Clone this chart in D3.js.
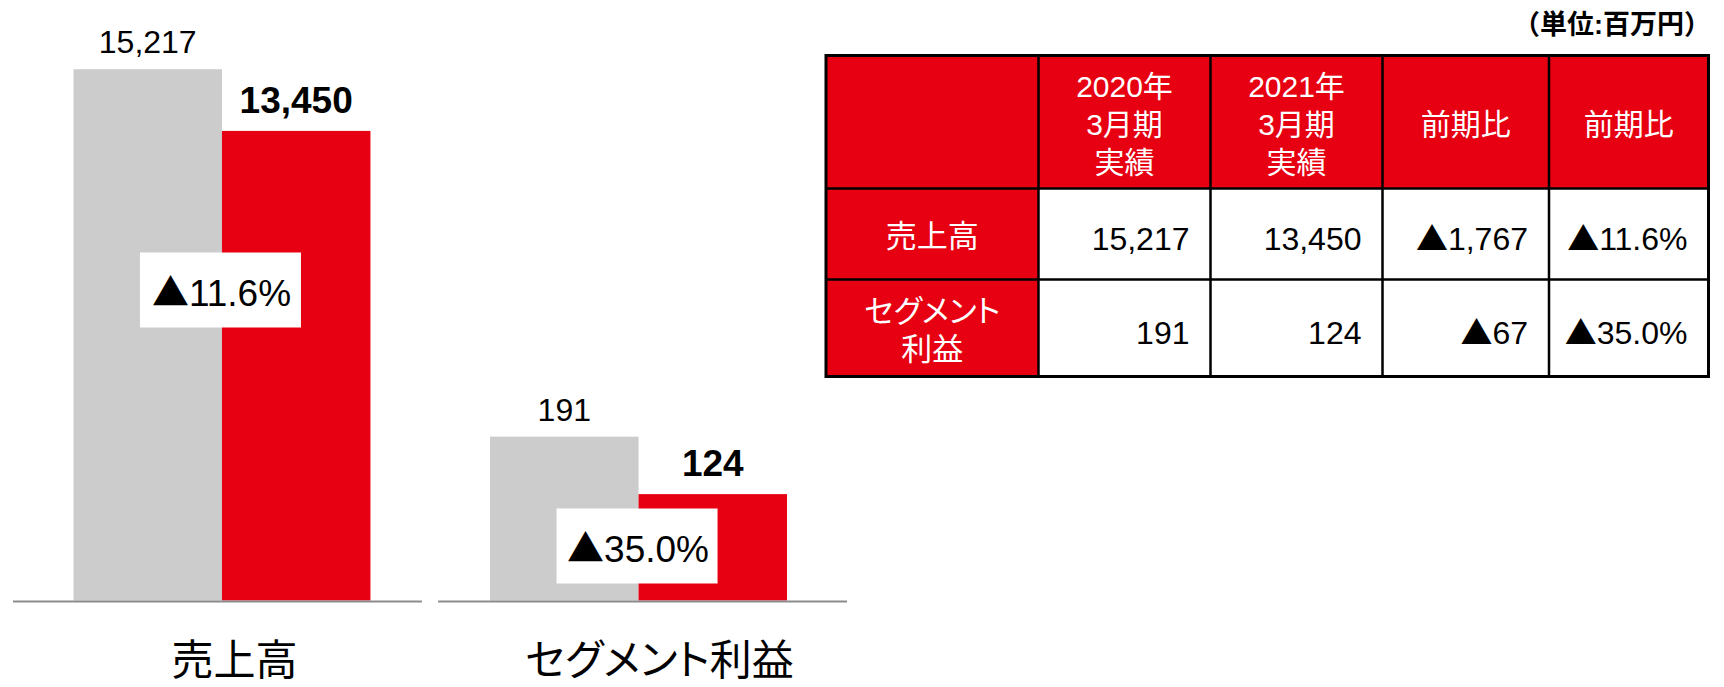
<!DOCTYPE html>
<html>
<head>
<meta charset="utf-8">
<title>売上高・セグメント利益</title>
<script src="https://cdnjs.cloudflare.com/ajax/libs/d3/7.8.5/d3.min.js"></script>
<style>
    body { margin: 0; background: #fff; }
    svg text {
        font-family: "Liberation Sans", "Noto Sans CJK JP", sans-serif;
        font-feature-settings: "palt";
    }
    svg tspan.tri {
        font-family: "Noto Sans CJK JP", sans-serif;
    }
</style>
</head>
<body>
<svg id="chart"></svg>
<script>
    // values (単位:百万円)
    const categories = ["売上高", "セグメント利益"];
    const seriesNames = ["2020年3月期実績", "2021年3月期実績"];
    const prevYear = [15217, 191];
    const thisYear = [13450, 124];
    const diffAmount = ["▲1,767", "▲67"];
    const diffRate = ["▲11.6%", "▲35.0%"];
    const axisMax = [17200, 700];   // each panel has its own scale

    const headerLabels = [[], ["2020年", "3月期", "実績"], ["2021年", "3月期", "実績"], ["前期比"], ["前期比"]];
    const rowLabels = [["売上高"], ["セグメント", "利益"]];
    const unitLabel = "（単位:百万円）";

    const width = 1724, height = 687;
    const red = "#E60012", grey = "#CCCCCC";

    const svg = d3.select("#chart")
        .attr("width", width)
        .attr("height", height);

    // puts a leading ▲ into its own tspan so it gets the big CJK glyph
    function triText(sel, t) {
        if (t.startsWith("▲")) {
            sel.append("tspan").attr("class", "tri").text("▲");
            sel.append("tspan").text(t.slice(1));
        } else {
            sel.text(t);
        }
    }

    // ---- bar chart ----
    const baseY = 600.5;
    const x0 = d3.scaleBand()
        .domain(categories)
        .range([13, 847])
        .paddingInner(0.038);

    const x1 = d3.scaleBand()
        .domain([0, 1])
        .range([0, x0.bandwidth()])
        .paddingOuter(0.377);

    const yScales = axisMax.map(m => d3.scaleLinear().domain([0, m]).range([baseY, 0]));
    const color = d3.scaleOrdinal().domain([0, 1]).range([grey, red]);

    const barShift = [4.5, -4];     // bar pairs sit a little toward the middle
    const boxCenterY = [290, 546];

    categories.forEach((cat, i) => {
        const y = yScales[i];
        const vals = [prevYear[i], thisYear[i]];
        const g = svg.append("g").attr("transform", `translate(${x0(cat)},0)`);
        const bars = g.append("g").attr("transform", `translate(${barShift[i]},0)`);

        bars.selectAll("rect.bar")
            .data(vals)
            .join("rect")
            .attr("class", "bar")
            .attr("x", (d, j) => x1(j))
            .attr("y", d => y(d))
            .attr("width", x1.bandwidth())
            .attr("height", d => baseY - y(d))
            .attr("fill", (d, j) => color(j));

        bars.selectAll("text.val")
            .data(vals)
            .join("text")
            .attr("class", "val")
            .attr("x", (d, j) => x1(j) + x1.bandwidth() / 2)
            .attr("y", (d, j) => y(d) - (j === 0 ? 16 : 18))
            .attr("text-anchor", "middle")
            .style("font-size", (d, j) => j === 0 ? "32px" : "37px")
            .style("font-weight", (d, j) => j === 0 ? "normal" : "bold")
            .text(d => d3.format(",")(d));

        // baseline
        g.append("line")
            .attr("x1", 0)
            .attr("x2", x0.bandwidth())
            .attr("y1", baseY + 1)
            .attr("y2", baseY + 1)
            .attr("stroke", "#8C8C8C")
            .attr("stroke-width", 2);

        // change-rate box
        const bx = x1(1) - 1.5;
        const by = boxCenterY[i];
        bars.append("rect")
            .attr("x", bx - 80.5)
            .attr("y", by - 37.5)
            .attr("width", 161)
            .attr("height", 75)
            .attr("fill", "#fff");
        bars.append("text")
            .attr("x", bx + 1)
            .attr("y", by + 16)
            .attr("text-anchor", "middle")
            .style("font-size", "37px")
            .call(triText, diffRate[i]);

        // category label
        g.append("text")
            .attr("x", x0.bandwidth() / 2 + 17)
            .attr("y", 675)
            .attr("text-anchor", "middle")
            .style("font-size", "42px")
            .text(cat);
    });

    // ---- table ----
    const tableLeft = 826, tableTop = 55.5;
    const colWidths = [212.5, 172, 172, 166.5, 159.5];
    const rowHeights = [133, 91, 97];
    const colX = [tableLeft];
    colWidths.forEach(w => colX.push(colX[colX.length - 1] + w));
    const rowY = [tableTop];
    rowHeights.forEach(h => rowY.push(rowY[rowY.length - 1] + h));

    const tableRows = categories.map((c, i) => [
        d3.format(",")(prevYear[i]),
        d3.format(",")(thisYear[i]),
        diffAmount[i],
        diffRate[i]
    ]);

    const table = svg.append("g");

    // cell fills
    for (let r = 0; r < 3; r++) {
        for (let c = 0; c < 5; c++) {
            table.append("rect")
                .attr("x", colX[c])
                .attr("y", rowY[r])
                .attr("width", colWidths[c])
                .attr("height", rowHeights[r])
                .attr("fill", (r === 0 || c === 0) ? red : "#fff");
        }
    }

    // multi-line centred text
    function cellLines(lines, cx, cy, size, fill, shift) {
        lines.forEach((t, k) => {
            table.append("text")
                .attr("x", cx)
                .attr("y", cy + shift + (k - (lines.length - 1) / 2) * 38)
                .attr("text-anchor", "middle")
                .attr("fill", fill)
                .style("font-size", size)
                .text(t);
        });
    }

    headerLabels.forEach((lines, c) => {
        cellLines(lines, (colX[c] + colX[c + 1]) / 2, (rowY[0] + rowY[1]) / 2, "30px", "#fff", 13);
    });

    rowLabels.forEach((lines, r) => {
        cellLines(lines, (colX[0] + colX[1]) / 2, (rowY[r + 1] + rowY[r + 2]) / 2, "31px", "#fff", 13);
    });

    tableRows.forEach((row, r) => {
        const cy = (rowY[r + 1] + rowY[r + 2]) / 2;
        row.forEach((t, c) => {
            table.append("text")
                .attr("x", colX[c + 2] - 21)
                .attr("y", cy + 16)
                .attr("text-anchor", "end")
                .style("font-size", "32px")
                .call(triText, t);
        });
    });

    // grid lines
    colX.slice(1, -1).forEach(x => {
        table.append("line")
            .attr("x1", x).attr("x2", x)
            .attr("y1", rowY[0]).attr("y2", rowY[3])
            .attr("stroke", "#000").attr("stroke-width", 2.5);
    });
    rowY.slice(1, -1).forEach(y => {
        table.append("line")
            .attr("x1", colX[0]).attr("x2", colX[5])
            .attr("y1", y).attr("y2", y)
            .attr("stroke", "#000").attr("stroke-width", 2.5);
    });
    table.append("rect")
        .attr("x", colX[0])
        .attr("y", rowY[0])
        .attr("width", colX[5] - colX[0])
        .attr("height", rowY[3] - rowY[0])
        .attr("fill", "none")
        .attr("stroke", "#000")
        .attr("stroke-width", 3);

    svg.append("text")
        .attr("x", 1711)
        .attr("y", 34)
        .attr("text-anchor", "end")
        .style("font-size", "27px")
        .style("font-weight", "bold")
        .style("font-feature-settings", "normal")
        .text(unitLabel);
</script>
</body>
</html>
